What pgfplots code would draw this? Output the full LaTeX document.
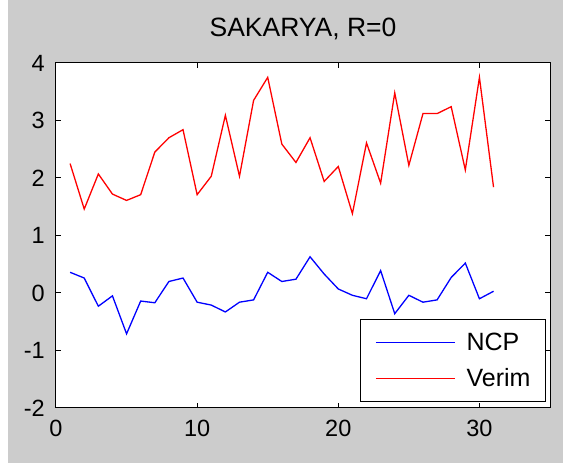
\documentclass[border=0pt]{standalone}
\usepackage{pgfplots}
\pgfplotsset{compat=1.18}
\usepackage{fontspec}
\setmainfont{Liberation Sans}
\definecolor{figgray}{RGB}{204,204,204}
\begin{document}
\begin{tikzpicture}
\fill[white] (-56pt,-60pt) rectangle (507pt,408pt);
\fill[figgray] (-48pt,-55pt) rectangle (507pt,408pt);
\begin{axis}[
  at={(0pt,0pt)}, anchor=south west,
  scale only axis, width=494pt, height=345pt,
  xmin=0, xmax=35, ymin=-2, ymax=4,
  xtick={0,10,20,30}, ytick={-2,-1,0,1,2,3,4},
  xtick pos=both, ytick pos=both,
  tick align=inside, major tick length=5pt,
  axis line style={line width=1pt, black},
  every tick/.style={black, line width=1pt},
  axis background/.style={fill=white},
  title={SAKARYA, R=0},
  title style={at={(0.5,1)}, anchor=base, yshift=20pt, font=\fontsize{26.5}{30}\selectfont, inner sep=0pt},
  ticklabel style={font=\fontsize{23.5}{27}\selectfont, inner sep=0pt},
  /pgf/number format/assume math mode=true,
  xticklabel style={anchor=base, yshift=-29pt},
  yticklabel style={anchor=east, xshift=-11pt},
  legend style={at={(1,0)}, anchor=south east, xshift=-4pt, yshift=6pt, draw=black, line width=1pt,
    inner xsep=15pt, inner ysep=5pt, column sep=11pt, cells={anchor=west},
    nodes={inner sep=0pt, text height=26pt, text depth=10pt, font=\fontsize{25}{29}\selectfont}},
  legend image code/.code={\draw[#1] (0pt,0pt) -- (79pt,0pt);},
]
\addplot[blue, line width=1.3pt] coordinates {
(1,0.36) (2,0.26) (3,-0.23) (4,-0.05) (5,-0.71) (6,-0.14) (7,-0.17) (8,0.20) (9,0.26) (10,-0.16)
(11,-0.21) (12,-0.33) (13,-0.16) (14,-0.12) (15,0.36) (16,0.20) (17,0.24) (18,0.63) (19,0.33) (20,0.07)
(21,-0.04) (22,-0.10) (23,0.39) (24,-0.36) (25,-0.04) (26,-0.16) (27,-0.12) (28,0.27) (29,0.52) (30,-0.10) (31,0.03)
};
\addlegendentry{NCP}
\addplot[red, line width=1.3pt] coordinates {
(1,2.25) (2,1.46) (3,2.07) (4,1.72) (5,1.61) (6,1.71) (7,2.45) (8,2.70) (9,2.84) (10,1.71)
(11,2.03) (12,3.09) (13,2.03) (14,3.35) (15,3.75) (16,2.59) (17,2.27) (18,2.70) (19,1.94) (20,2.20)
(21,1.38) (22,2.61) (23,1.91) (24,3.48) (25,2.22) (26,3.12) (27,3.12) (28,3.24) (29,2.14) (30,3.75) (31,1.84)
};
\addlegendentry{Verim}
\end{axis}
\end{tikzpicture}
\end{document}
